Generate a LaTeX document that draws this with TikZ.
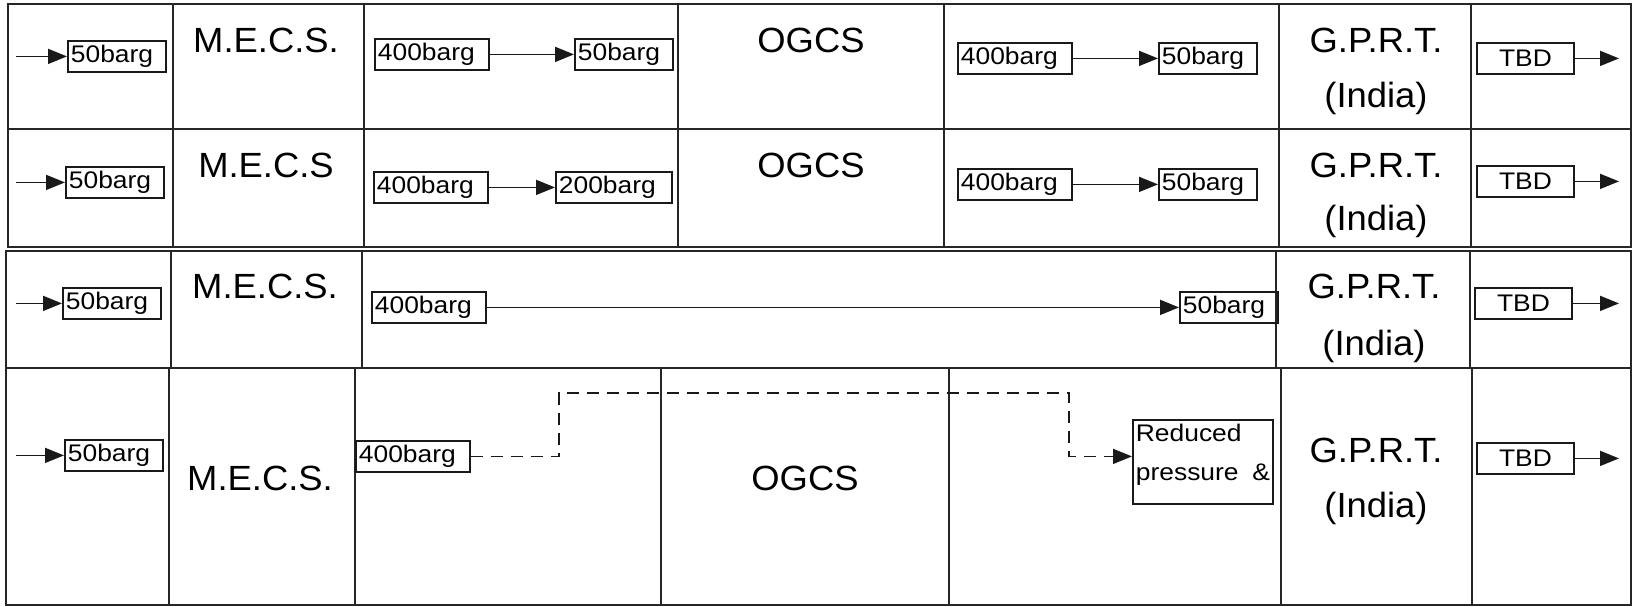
\documentclass[tikz,border=0pt]{standalone}
\usepackage{fontspec}
\setmainfont{Liberation Sans}
\newfontfamily\boxfont[FakeStretch=1.1]{Liberation Sans}
\newfontfamily\labelfont[FakeStretch=1.04]{Liberation Sans}
\usetikzlibrary{arrows.meta}
\begin{document}
\begin{tikzpicture}[x=1pt,y=-1pt,
  grid/.style={line width=2pt, draw=black!85},
  bx/.style={draw=black!90, line width=1.8pt, inner xsep=3pt, inner ysep=0pt,
    minimum height=31pt, align=left, anchor=north west,
    font=\boxfont\fontsize{24}{29}\selectfont},
  w50/.style={bx, text width=92pt},
  w400/.style={bx, text width=108pt},
  w200/.style={bx, text width=110pt},
  tbd/.style={bx, align=center, text width=91pt},
  big/.style={anchor=base, inner sep=0pt, font=\labelfont\fontsize{35}{42}\selectfont},
  flow/.style={line width=1.6pt, draw=black!90, -{Triangle[length=19pt,width=15pt]}},
  dsh/.style={flow, dash pattern=on 12pt off 8pt},
]
\useasboundingbox (0,0) rectangle (1633,606);

% ---- upper table: rows 1 and 2 ----
\draw[grid] (8,4) rectangle (1631,247);
\draw[grid] (8,129) -- (1631,129);
\foreach \x in {173,364,678,944,1279,1471}
  \draw[grid] (\x,4) -- (\x,247);

% ---- lower table: rows 3 and 4 ----
\draw[grid] (6,251) rectangle (1631,605);
\draw[grid] (6,368) -- (1631,368);
\foreach \x in {171,362,1276,1470}
  \draw[grid] (\x,251) -- (\x,368);
\foreach \x in {169,355,661,949,1281,1472}
  \draw[grid] (\x,368) -- (\x,605);

% free ends of the inlet and outlet arrows
\coordinate (in) at (16,0);
\coordinate (out) at (1619,0);

% ---- row 1 ----
\node[w50]  (r1a) at (67,40)   {50barg};
\node[big]  (r1m) at (266,52)  {M.E.C.S.};
\node[w400] (r1b) at (374,38)  {400barg};
\node[w50]  (r1c) at (574,38)  {50barg};
\node[big]  (r1o) at (811,52)  {OGCS};
\node[w400] (r1d) at (957,42)  {400barg};
\node[w50]  (r1e) at (1158,42) {50barg};
\node[big]  (r1g) at (1376,52) {G.P.R.T.};
\node[big]  (r1i) at (1376,107) {(India)};
\node[tbd]  (r1t) at (1476,42) {TBD};
\draw[flow] (r1a.west -| in) -- (r1a.west);
\draw[flow] (r1b.east) -- (r1c.west);
\draw[flow] (r1d.east) -- (r1e.west);
\draw[flow] (r1t.east) -- (r1t.east -| out);

% ---- row 2 ----
\node[w50]  (r2a) at (65,166)  {50barg};
\node[big]  (r2m) at (266,177) {M.E.C.S};
\node[w400] (r2b) at (373,171) {400barg};
\node[w200] (r2c) at (555,171) {200barg};
\node[big]  (r2o) at (811,177) {OGCS};
\node[w400] (r2d) at (957,168) {400barg};
\node[w50]  (r2e) at (1158,168) {50barg};
\node[big]  (r2g) at (1376,177) {G.P.R.T.};
\node[big]  (r2i) at (1376,230) {(India)};
\node[tbd]  (r2t) at (1476,165) {TBD};
\draw[flow] (r2a.west -| in) -- (r2a.west);
\draw[flow] (r2b.east) -- (r2c.west);
\draw[flow] (r2d.east) -- (r2e.west);
\draw[flow] (r2t.east) -- (r2t.east -| out);

% ---- row 3 ----
\node[w50]  (r3a) at (62,287)  {50barg};
\node[big]  (r3m) at (265,298) {M.E.C.S.};
\node[w400] (r3b) at (371,291) {400barg};
\node[w50]  (r3c) at (1179,291) {50barg};
\node[big]  (r3g) at (1374,298) {G.P.R.T.};
\node[big]  (r3i) at (1374,355) {(India)};
\node[tbd]  (r3t) at (1474,287) {TBD};
\draw[flow] (r3a.west -| in) -- (r3a.west);
\draw[flow] (r3b.east) -- (r3c.west);
\draw[flow] (r3t.east) -- (r3t.east -| out);

% ---- row 4 ----
\node[w50]  (r4a) at (64,439)  {50barg};
\node[big]  (r4m) at (260,490) {M.E.C.S.};
\node[w400] (r4b) at (355,440) {400barg};
\node[big]  (r4o) at (805,490) {OGCS};
\node[draw=black!90, line width=1.8pt, inner xsep=3pt, inner ysep=0pt,
      text width=134pt, align=left, anchor=north west,
      text height=22pt, text depth=62pt,
      font=\boxfont\fontsize{24}{39}\selectfont]
      (r4r) at (1132,419) {Reduced\\pressure\hfill\&};
\node[big]  (r4g) at (1376,462) {G.P.R.T.};
\node[big]  (r4i) at (1376,517) {(India)};
\node[tbd]  (r4t) at (1476,442) {TBD};
\coordinate (d1) at (559,393);
\coordinate (d2) at (1069,393);
\draw[flow] (r4a.west -| in) -- (r4a.west);
\draw[dsh] (r4b.east) -- (r4b.east -| d1) -- (d1) -- (d2)
  -- (d2 |- r4b.east) -- (r4b.east -| r4r.west);
\draw[flow] (r4t.east) -- (r4t.east -| out);
\end{tikzpicture}
\end{document}
